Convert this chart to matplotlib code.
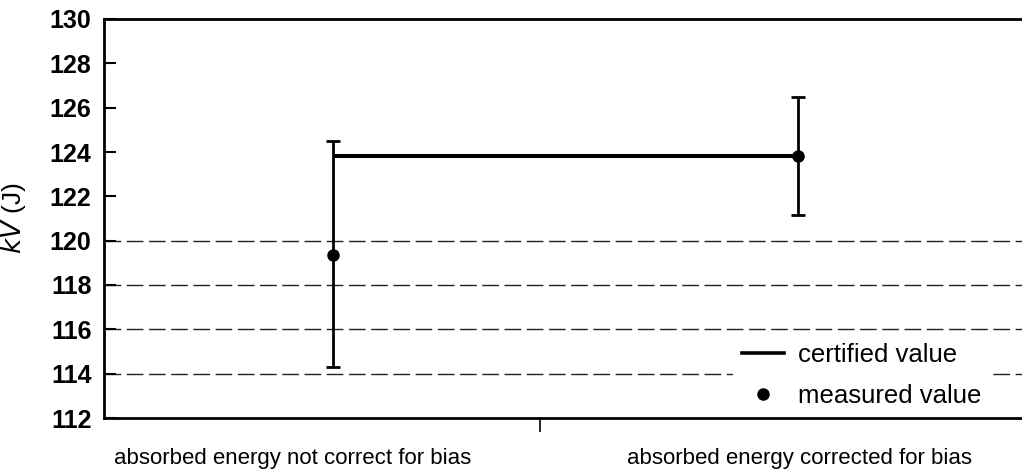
import numpy as np
import matplotlib.pyplot as plt
from matplotlib.lines import Line2D

plt.rcParams['font.family'] = ['Liberation Sans', 'DejaVu Sans']

# data
categories = ['absorbed energy not correct for bias', 'absorbed energy corrected for bias']
measured = [119.35, 123.82]
err_low = [114.28, 121.17]
err_high = [124.48, 126.48]
certified = 123.83
ref_lines = [114, 116, 118, 120]
yticks = [112, 114, 116, 118, 120, 122, 124, 126, 128, 130]

# layout (x in axis units, 0 = left spine, 1 = middle tick)
point_x = [0.525, 1.592]
label_x = [0.4335, 1.596]

fig = plt.figure(figsize=(10.22, 4.70), dpi=100)
ax = fig.add_axes([104/1022, 52/470, 918/1022, 399/470])

for y in ref_lines:
    ax.axhline(y, color='#222222', lw=1.0, ls=(0, (12, 4)), zorder=1)

ax.plot(point_x, [certified, certified], color='black', lw=2.9, zorder=3,
        solid_capstyle='butt')

lo = np.array(measured) - np.array(err_low)
hi = np.array(err_high) - np.array(measured)
ax.errorbar(point_x, measured, yerr=[lo, hi], fmt='o', color='black',
            ms=8, elinewidth=2.0, capsize=4.7, capthick=2.0, zorder=4)

ax.set_xlim(0, 918/436)
ax.set_ylim(112, 130)
ax.set_yticks(yticks)
ax.set_yticklabels([str(t) for t in yticks], fontsize=18, fontweight='bold')
ax.tick_params(axis='y', direction='in', length=8.5, width=1.5, pad=9)

ax.set_xticks(label_x)
ax.set_xticklabels(categories, fontsize=16)
ax.tick_params(axis='x', which='major', length=0, pad=21.5)
ax.set_xticks([1.0], minor=True)
ax.tick_params(axis='x', which='minor', direction='out', length=10, width=1.2)

ax.set_ylabel('$\\mathit{kV}$ (J)', fontsize=19)
ax.yaxis.set_label_coords(-0.083, 0.5)

for s in ['left', 'bottom', 'top']:
    ax.spines[s].set_linewidth(2.0)
ax.spines['right'].set_visible(False)

handles = [Line2D([], [], color='black', lw=2.6),
           Line2D([], [], color='black', marker='o', ls='none', ms=8)]
leg = ax.legend(handles, ['certified value', 'measured value'], fontsize=18.5,
                frameon=True, loc='upper left', bbox_to_anchor=(0.671, 0.243),
                handlelength=1.63, handletextpad=0.55, labelspacing=0.68,
                borderpad=0.35)
leg.get_frame().set_edgecolor('none')
leg.get_frame().set_facecolor('white')
leg.get_frame().set_alpha(1.0)
leg.get_frame().set_boxstyle('square', pad=0)

fig.savefig('out.png', dpi=100)
